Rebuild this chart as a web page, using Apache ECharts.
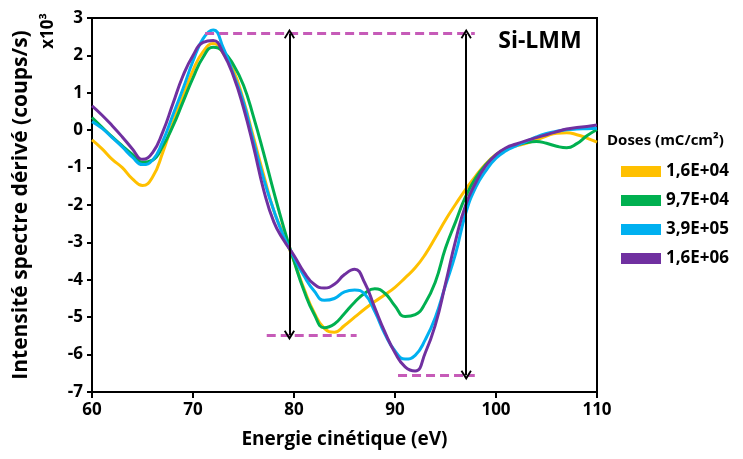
<!DOCTYPE html>
<html>
<head>
<meta charset="utf-8">
<script src="https://cdn.jsdelivr.net/npm/echarts@6/dist/echarts.min.js"></script>
<style>html,body{margin:0;padding:0;background:#fff;}#c{width:743px;height:459px;}</style>
</head>
<body>
<div id="c"></div>
<script>
const energy = [60,61,62,63,64,65,66,67,68,69,70,71,72,73,74,75,76,77,78,79,80,81,82,83,84,85,86,87,88,89,90,91,92,93,94,95,96,97,98,99,100,101,102,103,104,105,106,107,108,109,110];
const dose1 = [-0.26,-0.5,-0.78,-1.0,-1.3,-1.48,-1.25,-0.6,0.2,0.9,1.6,2.1,2.32,2.05,1.6,0.8,-0.2,-1.2,-2.15,-2.8,-3.5,-4.25,-4.88,-5.3,-5.4,-5.22,-5.0,-4.78,-4.58,-4.4,-4.2,-3.95,-3.68,-3.32,-2.87,-2.4,-1.98,-1.58,-1.22,-0.9,-0.65,-0.5,-0.42,-0.35,-0.26,-0.16,-0.08,-0.07,-0.12,-0.21,-0.32];
const dose2 = [0.34,0.08,-0.18,-0.42,-0.65,-0.86,-0.8,-0.43,0.1,0.75,1.4,1.95,2.22,2.1,1.75,1.2,0.35,-0.62,-1.65,-2.62,-3.5,-4.3,-4.92,-5.28,-5.18,-4.9,-4.6,-4.36,-4.24,-4.36,-4.7,-4.98,-4.93,-4.62,-4.05,-3.15,-2.45,-1.77,-1.27,-0.92,-0.66,-0.5,-0.4,-0.33,-0.3,-0.35,-0.43,-0.47,-0.36,-0.15,0.02];
const dose3 = [0.23,0.05,-0.2,-0.45,-0.72,-0.92,-0.8,-0.3,0.4,1.1,1.85,2.45,2.68,2.2,1.5,0.75,-0.3,-1.3,-2.15,-2.85,-3.4,-3.9,-4.3,-4.55,-4.5,-4.32,-4.27,-4.38,-4.85,-5.45,-5.9,-6.12,-6.02,-5.6,-5.0,-4.15,-3.3,-2.22,-1.52,-1.08,-0.75,-0.55,-0.42,-0.3,-0.18,-0.09,-0.03,0.01,0.03,0.04,0.05];
const dose4 = [0.65,0.4,0.12,-0.18,-0.5,-0.78,-0.6,-0.05,0.7,1.45,2.0,2.35,2.4,2.05,1.45,0.6,-0.45,-1.6,-2.45,-2.95,-3.35,-3.8,-4.12,-4.22,-4.12,-3.86,-3.72,-4.08,-4.75,-5.4,-5.95,-6.33,-6.44,-5.95,-5.2,-4.1,-2.95,-2.0,-1.4,-0.95,-0.65,-0.47,-0.37,-0.28,-0.2,-0.12,-0.04,0.03,0.07,0.1,0.14];
const doseNames = ['1,6E+04','9,7E+04','3,9E+05','1,6E+06'];
const doseColors = ['#FFC000','#00B050','#00B0F0','#7030A0'];
const xTicks = [60,70,80,90,100,110];
const yTicks = [-7,-6,-5,-4,-3,-2,-1,0,1,2,3];
// annotation (data space)
const refLevels = [2.58, -5.48, -6.55];
const refSpans = [[71.2, 97.9], [77.3, 86.2], [90.3, 97.9]];
const arrowX = [79.55, 97.05];
const arrowEnds = [[2.58, -5.48], [2.58, -6.55]];

const FONT = '"Open Sans", sans-serif';
const allDoses = [dose1, dose2, dose3, dose4];
const curveSeries = allDoses.map((vals, i) => ({
  name: doseNames[i],
  type: 'line',
  data: energy.map((x, j) => [x, vals[j]]),
  smooth: 0.5,
  showSymbol: false,
  symbol: 'none',
  lineStyle: { color: doseColors[i], width: 3 },
  itemStyle: { color: doseColors[i] },
  z: 3
}));

const chevron = 'path://M5,0 L10,9 L8.6,10 L5,3.6 L1.4,10 L0,9 Z';
const dashLines = refLevels.map((y, i) => [
  { coord: [refSpans[i][0], y] }, { coord: [refSpans[i][1], y] }
]);
const arrowLines = arrowX.map((x, i) => [
  { coord: [x, arrowEnds[i][0]] }, { coord: [x, arrowEnds[i][1]] }
]);

const annotSeries = [
  {
    name: 'ref', type: 'line', data: [], z: 2,
    markLine: {
      silent: true, symbol: ['none','none'], label: { show: false },
      lineStyle: { color: '#C65BB8', width: 3, type: [9,5] },
      data: dashLines
    }
  },
  {
    name: 'arrows', type: 'line', data: [], z: 2,
    markLine: {
      silent: true, symbol: [chevron, chevron], symbolSize: [11, 10], label: { show: false },
      lineStyle: { color: '#000', width: 2, type: 'solid' },
      itemStyle: { color: '#000' },
      data: arrowLines
    }
  }
];

const chart = echarts.init(document.getElementById('c'));
chart.setOption({
  animation: false,
  backgroundColor: '#fff',
  grid: { left: 92, top: 18, right: 146, bottom: 67, show: true, borderColor: '#000', borderWidth: 2, backgroundColor: 'transparent' },
  xAxis: {
    type: 'value', min: xTicks[0], max: xTicks[xTicks.length-1], interval: 10,
    name: 'Energie cinétique (eV)', nameLocation: 'middle', nameGap: 38,
    nameTextStyle: { fontFamily: FONT, fontWeight: 'bold', fontSize: 19, color: '#000' },
    axisLine: { onZero: false, lineStyle: { color: '#000', width: 2 } },
    axisTick: { show: true, inside: false, length: 6, lineStyle: { color: '#000', width: 2 } },
    axisLabel: { fontFamily: FONT, fontWeight: 'bold', fontSize: 17, color: '#000', margin: 10 },
    splitLine: { show: false }
  },
  yAxis: {
    type: 'value', min: yTicks[0], max: yTicks[yTicks.length-1], interval: 1,
    name: 'Intensité spectre dérivé (coups/s)', nameLocation: 'middle', nameGap: 60, nameRotate: 90,
    nameTextStyle: { fontFamily: FONT, fontWeight: 'bold', fontSize: 21, color: '#000' },
    axisLine: { onZero: false, lineStyle: { color: '#000', width: 2 } },
    axisTick: { show: true, inside: false, length: 5, lineStyle: { color: '#000', width: 2 } },
    axisLabel: { fontFamily: FONT, fontWeight: 'bold', fontSize: 17, color: '#000', margin: 9 },
    splitLine: { show: false }
  },
  legend: {
    orient: 'vertical', left: 616, top: 158,
    data: doseNames.map(n => ({ name: n, icon: 'rect' })),
    itemWidth: 40, itemHeight: 11, itemGap: 12,
    textStyle: { fontFamily: FONT, fontWeight: 'bold', fontSize: 17, color: '#000' },
    selectedMode: false
  },
  graphic: [
    { type: 'text', x: 607, y: 141, style: { text: 'Doses (mC/cm²)', font: 'bold 15px ' + FONT, fill: '#000', align: 'left', verticalAlign: 'middle' } },
    { type: 'text', x: 48, y: 31, rotation: Math.PI/2, style: { text: 'x10³', font: 'bold 17px ' + FONT, fill: '#000', align: 'center', verticalAlign: 'middle' } },
    { type: 'text', x: 540, y: 41, style: { text: 'Si-LMM', font: 'bold 23px ' + FONT, fill: '#000', align: 'center', verticalAlign: 'middle' }, z: 10 }
  ],
  series: curveSeries.concat(annotSeries)
});
</script>
</body>
</html>
